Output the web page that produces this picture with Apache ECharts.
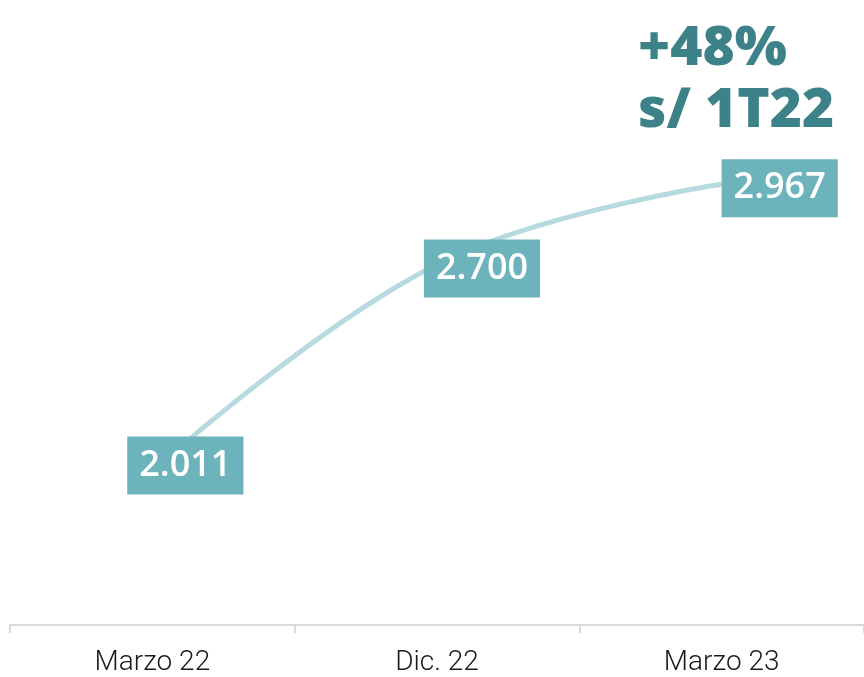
<!DOCTYPE html>
<html>
<head>
<meta charset="utf-8">
<style>
  html, body { margin: 0; padding: 0; background: #ffffff; }
  #chart { width: 864px; height: 677px; }
</style>
<script src="https://cdn.jsdelivr.net/npm/echarts@6/dist/echarts.min.js"></script>
</head>
<body>
<div id="chart"></div>
<script>
// Periods and values
var categories = ['Marzo 22', 'Dic. 22', 'Marzo 23'];
var values = [2011, 2700, 2967];
var headline = ['+48%', 's/ 1T22'];

// Where each value box sits relative to its point
var labelOffsets = [[33, -6], [45, 4], [58, 4]];

function fmt(v) {
  return String(v).replace(/\B(?=(\d{3})+(?!\d))/g, '.');
}

var chart = echarts.init(document.getElementById('chart'), null, { renderer: 'canvas' });

var labelData = values.map(function (v, i) {
  return {
    value: v,
    label: { offset: labelOffsets[i] }
  };
});

chart.setOption({
  animation: false,
  backgroundColor: '#ffffff',
  grid: { left: 10, right: -7, top: 0, bottom: 51, containLabel: false },
  xAxis: {
    type: 'category',
    data: categories,
    boundaryGap: true,
    axisLine: { show: true, lineStyle: { color: '#d9d9d9', width: 2 } },
    axisTick: { show: true, length: 8, lineStyle: { color: '#d9d9d9', width: 2 } },
    axisLabel: {
      color: '#1a1a1a',
      fontFamily: 'Roboto',
      fontWeight: 300,
      fontSize: 28,
      margin: 24
    },
    splitLine: { show: false }
  },
  yAxis: {
    type: 'value',
    min: 1500,
    max: 3580,
    show: false
  },
  series: [{
    type: 'line',
    data: values,
    smooth: 0.4,
    symbol: 'none',
    lineStyle: { color: '#b6dadf', width: 5 },
    z: 2
  }, {
    // value boxes
    type: 'scatter',
    data: labelData,
    symbolSize: 1,
    itemStyle: { color: 'rgba(0,0,0,0)', opacity: 1 },
    label: {
      show: true,
      position: 'inside',
      formatter: function (p) { return fmt(p.value); },
      color: '#ffffff',
      fontFamily: 'Open Sans',
      fontWeight: 600,
      fontSize: 36,
      lineHeight: 36,
      backgroundColor: '#6db3bc',
      padding: [11, 12, 11, 12]
    },
    z: 3
  }],
  graphic: [{
    type: 'text',
    left: 638,
    top: 18,
    style: {
      text: headline.join('\n'),
      fill: '#3d8189',
      font: '800 55px "Open Sans"',
      lineHeight: 62
    }
  }]
});
</script>
</body>
</html>
